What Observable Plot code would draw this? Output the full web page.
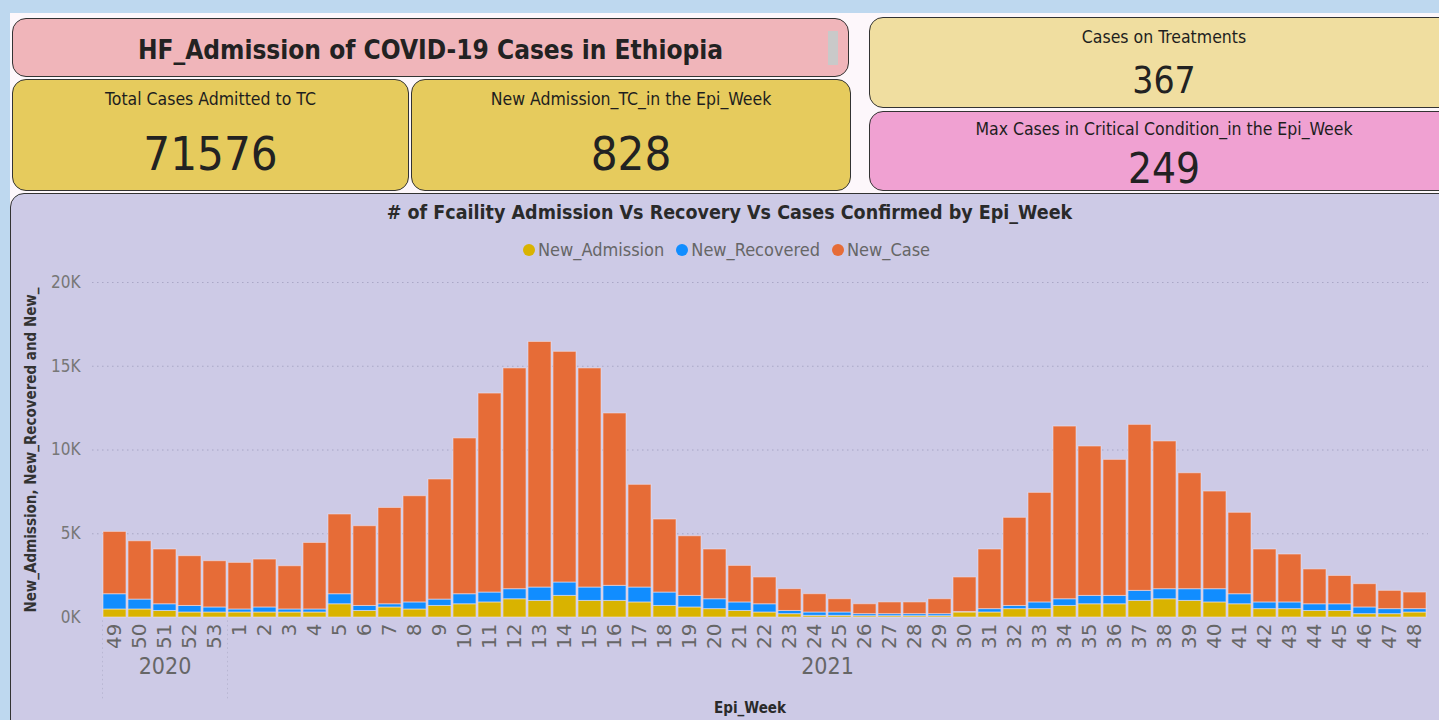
<!DOCTYPE html>
<html><head><meta charset="utf-8">
<script src="https://cdn.jsdelivr.net/npm/d3@7"></script>
<script src="https://cdn.jsdelivr.net/npm/@observablehq/plot@0.6"></script>
<style>
body{margin:0;width:1439px;height:720px;overflow:hidden;background:#fdf7fb;font-family:"DejaVu Sans Condensed","DejaVu Sans",sans-serif;position:relative}
.strip{position:absolute;background:#bed8ef}
.card{position:absolute;box-sizing:border-box;border:1.8px solid #333;border-radius:14px;color:#222}
.lbl,.val{position:absolute;left:0;right:0;text-align:center;white-space:nowrap}
.lbl{font-size:17.5px;line-height:22px;color:#1e1e1e}
#panel{position:absolute;left:10px;top:193px;width:1445px;height:540px;box-sizing:border-box;background:#cdcae6;border:1.8px solid #333;border-radius:14px 0 0 0}
#ctitle{position:absolute;left:10px;width:1439px;top:201px;text-align:center;font-weight:bold;font-size:19.5px;line-height:24px;color:#2a2a2a}
#legend{position:absolute;left:523px;top:240px;font-size:18px;line-height:20px;color:#666;white-space:nowrap}
#legend span.d{display:inline-block;width:12px;height:12px;border-radius:50%;margin-right:3px;vertical-align:0px}
#legend span.it{margin-right:12px}
#chart{position:absolute;left:10px;top:262px}
#xlab{position:absolute;left:700px;width:100px;top:699px;text-align:center;font-weight:bold;font-size:15px;color:#2a2a2a}
#chart [aria-label="y-axis label"] text{font-weight:bold;font-size:15px;fill:#333}
</style></head>
<body>
<div class="strip" style="left:0;top:0;width:1439px;height:13px"></div>
<div class="strip" style="left:0;top:0;width:10px;height:720px"></div>

<div class="card" style="left:12px;top:18px;width:837px;height:59px;background:#f0b5ba">
  <div class="val" style="top:15px;font-size:26px;line-height:32px;font-weight:bold">HF_Admission of COVID-19 Cases in Ethiopia</div>
  <div style="position:absolute;left:815px;top:12px;width:10px;height:34px;background:#c9c9c9"></div>
</div>
<div class="card" style="left:12px;top:79px;width:397px;height:112px;background:#e6cb5d">
  <div class="lbl" style="top:8px">Total Cases Admitted to TC</div>
  <div class="val" style="top:48px;font-size:47px;line-height:52px">71576</div>
</div>
<div class="card" style="left:411px;top:79px;width:440px;height:112px;background:#e6cb5d">
  <div class="lbl" style="top:8px">New Admission_TC_in the Epi_Week</div>
  <div class="val" style="top:48px;font-size:47px;line-height:52px">828</div>
</div>
<div class="card" style="left:869px;top:17px;width:590px;height:91px;background:#f0dea0">
  <div class="lbl" style="top:8px">Cases on Treatments</div>
  <div class="val" style="top:42px;font-size:37px;line-height:42px">367</div>
</div>
<div class="card" style="left:869px;top:111px;width:590px;height:80px;background:#f0a1d2">
  <div class="lbl" style="top:6px">Max Cases in Critical Condition_in the Epi_Week</div>
  <div class="val" style="top:34px;font-size:42px;line-height:46px">249</div>
</div>

<div id="panel"></div>
<div id="ctitle"># of Fcaility Admission Vs Recovery Vs Cases Confirmed by Epi_Week</div>
<div id="legend"></div>
<div id="chart"></div>
<div id="xlab">Epi_Week</div>

<script>
const epiYear = ["2020","2020","2020","2020","2020",
  "2021","2021","2021","2021","2021","2021","2021","2021","2021","2021",
  "2021","2021","2021","2021","2021","2021","2021","2021","2021","2021",
  "2021","2021","2021","2021","2021","2021","2021","2021","2021","2021",
  "2021","2021","2021","2021","2021","2021","2021","2021","2021","2021",
  "2021","2021","2021","2021","2021","2021","2021","2021"];
const epiWeek = ["49","50","51","52","53",
  "1","2","3","4","5","6","7","8","9","10",
  "11","12","13","14","15","16","17","18","19","20",
  "21","22","23","24","25","26","27","28","29","30",
  "31","32","33","34","35","36","37","38","39","40",
  "41","42","43","44","45","46","47","48"];
const newAdmission = [480,480,390,300,300,
  300,300,300,300,790,390,600,480,690,790,
  900,1090,990,1290,990,990,900,690,600,500,
  390,300,200,100,100,80,80,80,80,300,
  300,500,500,690,790,790,990,1090,990,900,
  790,500,500,390,390,200,200,300];
const newRecovered = [910,590,400,390,300,
  180,300,180,180,600,300,190,420,380,600,
  590,600,800,800,800,900,890,800,690,590,
  510,490,190,200,200,120,120,120,120,30,
  200,190,400,400,500,500,600,600,700,790,
  600,400,400,400,400,400,300,200];
const newCase = [3720,3480,3270,2970,2760,
  2780,2860,2580,3970,4760,4760,5750,6340,7170,9300,
  11880,13180,14660,13770,13080,10290,6130,4360,3560,2970,
  2180,1600,1300,1090,790,590,700,700,890,2060,
  3560,5260,6540,10310,8920,8120,9910,8820,6920,5830,
  4860,3160,2860,2080,1690,1390,1090,990];
const seriesNames = ["New_Admission","New_Recovered","New_Case"];
const seriesColors = ["#d9b300","#118dff","#e66c37"];
const yTicks = [0,5000,10000,15000,20000];
const yearNames = ["2020","2021"];
const yearMidKey = ["2020-51","2021-24"];
const yearStartKey = ["2020-49","2021-1"];

const keys = epiWeek.map((w,i)=>epiYear[i]+"-"+w);
const seriesValues = [newAdmission,newRecovered,newCase];
const data = [];
keys.forEach((k,i)=>seriesNames.forEach((s,j)=>data.push({key:k,series:s,value:seriesValues[j][i]})));

// legend
const lg = document.getElementById("legend");
seriesNames.forEach((s,j)=>{
  lg.insertAdjacentHTML("beforeend",`<span class="d" style="background:${seriesColors[j]}"></span><span class="it">${s}</span>`);
});

const chart = Plot.plot({
  width:1429, height:458,
  marginLeft:91, marginRight:11, marginTop:20, marginBottom:103,
  style:{background:"transparent",fontFamily:'"DejaVu Sans Condensed","DejaVu Sans",sans-serif',overflow:"visible"},
  x:{domain:keys, padding:0.08},
  y:{domain:[0,20000]},
  color:{domain:seriesNames, range:seriesColors},
  marks:[
    Plot.gridY(yTicks.slice(1),{stroke:"#9a98b8",strokeOpacity:0.7,strokeDasharray:"1.5,3.5",insetLeft:-9}),
    Plot.barY(data, Plot.stackY({x:"key", y:"value", fill:"series", order:seriesNames, stroke:"#f3e6ee", strokeOpacity:0.55, strokeWidth:1})),
    Plot.ruleX(yearStartKey,{x:d=>d, dx:-12.5, y1:-200, y2:-5000, stroke:"#b8b6d2", strokeDasharray:"1.5,3"}),
    Plot.axisX({tickFormat:k=>k.split("-")[1], tickRotate:-90, tickSize:0, tickPadding:6, fontSize:20, fill:"#666", label:null, fontFamily:'"DejaVu Sans",sans-serif'}),
    Plot.axisY({ticks:yTicks, tickFormat:d=>(d/1000)+"K", tickSize:0, tickPadding:21, fontSize:17, fill:"#777", label:"New_Admission, New_Recovered and New_", labelAnchor:"center", labelArrow:"none", labelOffset:76}),
    Plot.text([yearNames[0]],{x:[yearMidKey[0]], text:d=>d, frameAnchor:"bottom", dy:56, fontSize:23, fill:"#666"}),
    Plot.text([yearNames[1]],{x:[yearMidKey[1]], text:d=>d, frameAnchor:"bottom", dy:56, dx:12.5, fontSize:23, fill:"#666"})
  ]
});
document.getElementById("chart").appendChild(chart);
</script>
</body></html>
